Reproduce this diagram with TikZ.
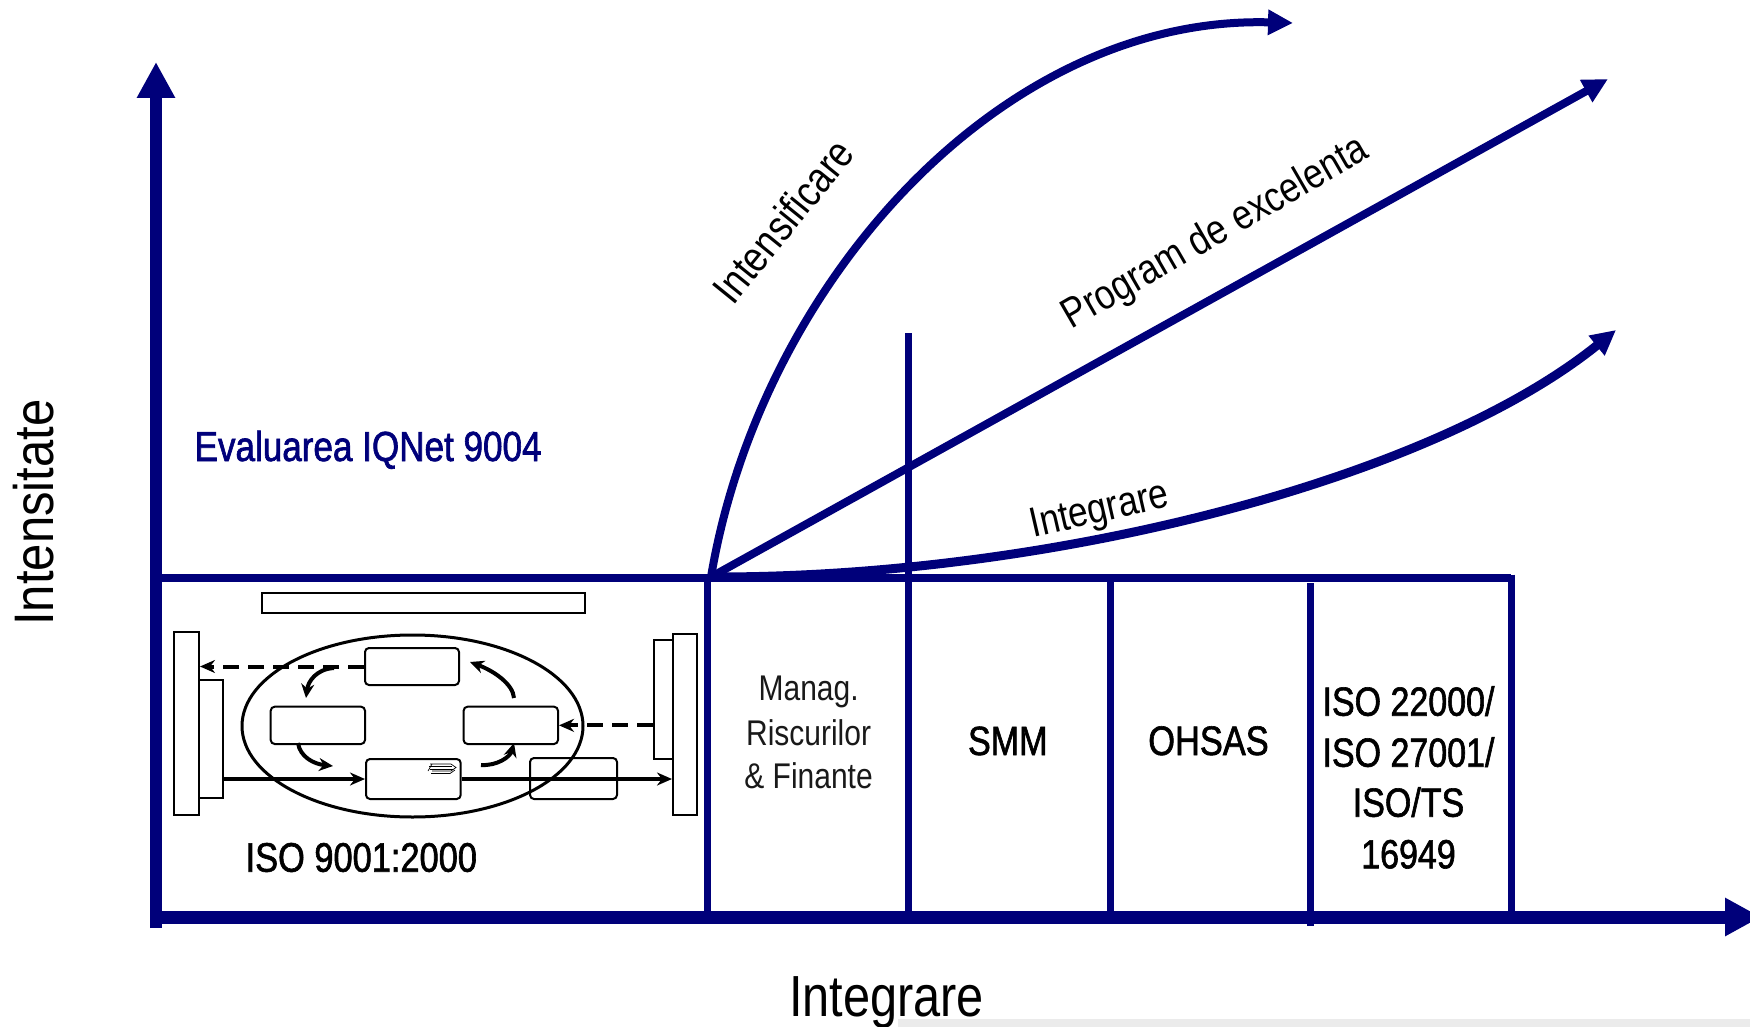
\documentclass[tikz,border=0pt]{standalone}
\usepackage{fontspec}
\setmainfont{Liberation Sans}
\newfontfamily\nar[FakeStretch=0.84]{Liberation Sans}
\newfontfamily\narm[FakeStretch=0.835,FakeBold=1.5]{Liberation Sans}
\newfontfamily\narw[FakeStretch=0.88]{Liberation Sans}
\usetikzlibrary{arrows.meta,shapes.geometric,calc}
\definecolor{navy}{RGB}{0,0,122}
\definecolor{lgray}{RGB}{235,235,235}
\definecolor{dtext}{RGB}{25,25,25}
\tikzset{
  fz/.style={font={\nar\fontsize{#1}{#1}\selectfont}, inner sep=0pt},
  fzm/.style={font={\narm\fontsize{#1}{#1}\selectfont}, inner sep=0pt},
  fzw/.style={font={\narw\fontsize{#1}{#1}\selectfont}, inner sep=0pt},
  frameline/.style={navy, line width=7pt},
  axisline/.style={navy, -{Triangle[length=36pt,width=36pt]}},
  curvearrow/.style={navy, line width=8pt, -{Triangle[length=25pt,width=24pt]}},
  sbox/.style={draw=black, line width=2pt, inner sep=0pt},
  rbox/.style={draw=black, line width=2pt, rounded corners=4pt, inner sep=0pt},
  solidarrow/.style={black, line width=3.5pt, -{Stealth[length=15pt,width=13pt]}},
  dasharrow/.style={black, line width=4pt, dash pattern=on 16pt off 9pt, -{Stealth[length=15pt,width=13pt]}},
  bentarrow/.style={black, line width=4pt, -{Stealth[length=14pt,width=13pt]}},
}
\begin{document}
\begin{tikzpicture}[x=1pt,y=-1pt]
\useasboundingbox (0,0) rectangle (1750,1027);
\clip (0,0) rectangle (1750,1027);
\fill[lgray] (898,1019) rectangle (1750,1027);

% ---- frame of the cells ----
\coordinate (f0) at (156,578);
\coordinate (f5) at (1511,578);
\draw[navy, line width=8pt] (f0) -- (f5);
\draw[frameline] (707,578) -- (707,917);
\draw[frameline] (908.6,333) -- (908.6,917);
\draw[frameline] (1110,578) -- (1110,917);
\draw[frameline] (1310,583) -- (1310,926);
\draw[frameline] (1511,574.5) -- (1511,917);

% ---- axes ----
\coordinate (ybot) at (156,928);
\coordinate (ytop) at (156,62);
\coordinate (xleft) at (151,917);
\coordinate (xright) at (1761,917);
\draw[axisline, line width=11.5pt] (ybot) -- (ytop);
\draw[axisline, line width=13pt] (xleft) -- (xright);

% ---- growth arrows ----
\coordinate (O) at (711,577);
\coordinate (tI) at (1293,23);
\coordinate (tP) at (1608,79);
\coordinate (tG) at (1616,330);
\draw[curvearrow] (O) .. controls (760,285) and (1000,15) .. (tI);
\draw[curvearrow] (O) -- (tP);
\draw[curvearrow, line width=9pt] (O) .. controls (1050,578) and (1430,480) .. (tG);

% ---- ISO 9001 process drawing ----
\node[sbox, minimum width=323pt, minimum height=20pt] (topbar) at (423.5,603) {};
\node[sbox, minimum width=25pt, minimum height=183pt] (Ltall) at (186.5,723.5) {};
\node[sbox, minimum width=23.5pt, minimum height=118pt] (Linner) at (210.75,739) {};
\node[sbox, minimum width=24pt, minimum height=181pt] (Rtall) at (685,724.5) {};
\node[sbox, minimum width=19.4pt, minimum height=119pt] (Rinner) at (663.3,699.5) {};
\node[draw=black, ellipse, line width=3pt, minimum width=341pt, minimum height=182pt, inner sep=0pt] (ell) at (412.5,726) {};
\node[rbox, minimum width=94pt, minimum height=37pt] (boxT) at (412,666.5) {};
\node[rbox, minimum width=94.3pt, minimum height=37.3pt] (boxL) at (317.85,725.35) {};
\node[rbox, minimum width=94.4pt, minimum height=37.3pt] (boxR) at (510.8,725.35) {};
\node[rbox, minimum width=94.7pt, minimum height=40pt] (boxB) at (413.35,779) {};
\node[rbox, minimum width=87pt, minimum height=41pt] (boxBR) at (573.5,778.5) {};

\draw[dasharrow] (boxT.west) -- (boxT.west -| Ltall.east);
\draw[dasharrow] (boxR.east -| Rinner.west) -- (boxR.east);
\draw[solidarrow] (boxB.west -| Linner.east) -- (boxB.west);
\draw[solidarrow] (boxB.east) -- (boxB.east -| Rtall.west);

\coordinate (c1a) at (334,668);
\coordinate (c1b) at (306,698);
\coordinate (c2a) at (298,743);
\coordinate (c2b) at (333,766);
\coordinate (c3a) at (481,765);
\coordinate (c3b) at (514,743);
\coordinate (c4a) at (514,698);
\coordinate (c4b) at (470,662);
\draw[bentarrow] (c1a) .. controls (316,669) and (308,682) .. (c1b);
\draw[bentarrow] (c2a) .. controls (300,757) and (314,764) .. (c2b);
\draw[bentarrow] (c3a) .. controls (497,766) and (510,757) .. (c3b);
\draw[bentarrow] (c4a) .. controls (513,684) and (494,671) .. (c4b);

% tiny document icon
\draw[black, line width=0.7pt] (430,764) -- (451,764) -- (456,767.5) -- (451,771) -- (432,771);
\draw[black, line width=0.7pt] (429,766.5) -- (452,766.5);
\draw[black, line width=0.7pt] (430,769) -- (453,769);
\draw[black, line width=0.7pt] (431,773.5) -- (450,773.5) -- (455,770);
\draw[black, line width=0.7pt] (432,764) -- (428,771);

% ---- texts ----
\node[fzm=42, navy, anchor=base west] (eval) at (194.4,461) {Evaluarea IQNet 9004};
\node[fzm=41.2, anchor=base] (iso9) at (361.3,871.7) {ISO 9001:2000};
\node[fz=35.7, dtext, anchor=base] (m1) at (808.6,700) {Manag.};
\node[fz=35.7, dtext, anchor=base] (m2) at (808.6,745) {Riscurilor};
\node[fz=35.7, dtext, anchor=base] (m3) at (808.6,788.3) {\& Finante};
\node[fzm=40.8, anchor=base] (smm) at (1007.8,755) {SMM};
\node[fzm=41.2, anchor=base] (ohsas) at (1208.5,755) {OHSAS};
\node[fzm=40.7, anchor=base] (i1) at (1408.5,715.7) {ISO 22000/};
\node[fzm=40.7, anchor=base] (i2) at (1408.5,766.7) {ISO 27001/};
\node[fzm=40.7, anchor=base] (i3) at (1408.5,816.7) {ISO/TS};
\node[fzm=40.7, anchor=base] (i4) at (1408.5,868.3) {16949};
\node[fz=58, anchor=base] (xlab) at (886.5,1016.7) {Integrare};
\node[fzw=55.7, rotate=90, anchor=base] (ylab) at (53.6,512.6) {Intensitate};
\node[fz=43, rotate=51] (lI) at (783,221) {Intensificare};
\node[fz=42, rotate=30] (lP) at (1216,234) {Program de excelenta};
\node[fz=42, rotate=13] (lG) at (1100,512) {Integrare};
\end{tikzpicture}
\end{document}
